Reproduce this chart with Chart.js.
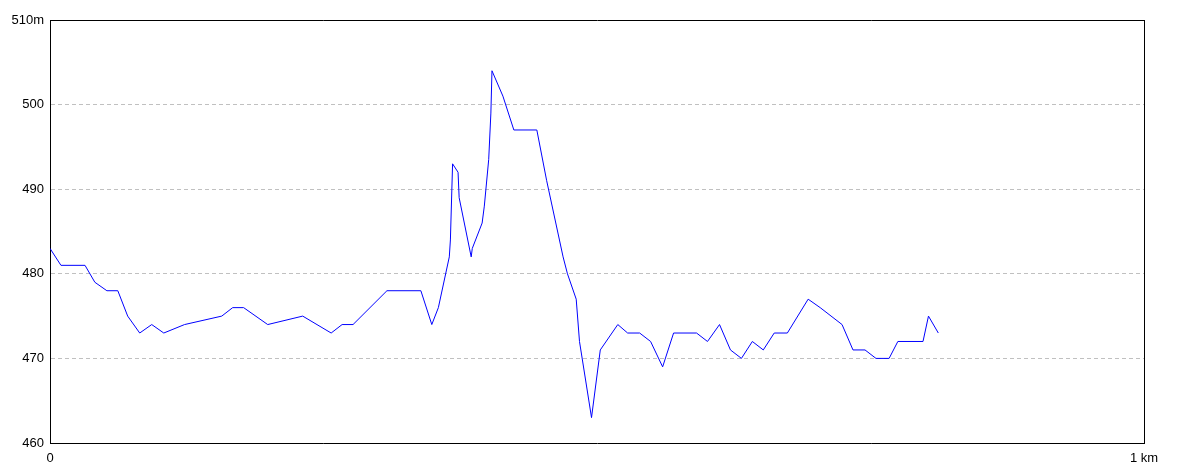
<!DOCTYPE html>
<html>
<head>
<meta charset="utf-8">
<script src="https://cdn.jsdelivr.net/npm/chart.js@4/dist/chart.umd.min.js"></script>
<style>
  html, body { margin: 0; padding: 0; background: #fff; }
  #wrap { width: 1184px; height: 473px; }
</style>
</head>
<body>
<div id="wrap"><canvas id="c" width="1184" height="473"></canvas></div>
<script>
// Distance along the track (metres)
const distances = [0,10,32,41,52,62,71,82,93,104,123,157,167,177,199,231,257,267,277,308,339,
  349,355,365,366,368,373,374,385,386,395,397,401,403,404,414,424,445,454,469,473,
  481,484,495,503,519,528,539,549,560,570,591,601,612,622,632,642,652,662,674,693,
  704,724,734,745,755,767,775,798,803,812];
// Elevation (metres)
const elevations = [483,481,481,479,478,478,475,473,474,473,474,475,476,476,474,475,473,474,474,478,478,
  474,476,482,484,493,492,489,482,483,486,488,493.5,499,504,501,497,497,491,482,480,
  477,472,463,471,474,473,473,472,469,473,473,472,474,471,470,472,471,473,473,477,
  476,474,471,471,470,470,472,472,475,473];
// Axis ticks
const yTicks = [460,470,480,490,500,510];
const xTicks = [0,1000];
const yTopLabel = '510m';
const xEndLabel = '1 km';

const points = distances.map((d, i) => ({ x: d, y: elevations[i] }));

Chart.defaults.font.family = "'Liberation Sans', Arial, sans-serif";
Chart.defaults.font.size = 13;
Chart.defaults.color = '#000';

new Chart(document.getElementById('c'), {
  type: 'line',
  data: {
    datasets: [{
      data: points,
      borderColor: '#0000ff',
      borderWidth: 1,
      pointRadius: 0,
      tension: 0,
      fill: false
    }]
  },
  options: {
    responsive: false,
    devicePixelRatio: 1,
    animation: false,
    layout: { padding: { top: 20, right: 40, left: 0, bottom: 0 } },
    plugins: { legend: { display: false }, tooltip: { enabled: false } },
    scales: {
      x: {
        type: 'linear', position: 'bottom', min: 0, max: 1000,
        afterBuildTicks: s => { s.ticks = xTicks.map(v => ({ value: v })); },
        afterFit: s => { s.height = 30; },
        ticks: {
          padding: 8, maxRotation: 0, autoSkip: false,
          callback: v => (v === 1000 ? xEndLabel : String(v))
        },
        grid: { display: false, drawTicks: false },
        border: { display: true, color: '#000', width: 1 }
      },
      x2: {
        type: 'linear', position: 'top', min: 0, max: 1000,
        afterFit: s => { s.height = 0; },
        ticks: { display: false },
        grid: { display: false, drawTicks: false },
        border: { display: true, color: '#000', width: 1 }
      },
      y: {
        type: 'linear', position: 'left', min: 460, max: 510,
        afterBuildTicks: s => { s.ticks = yTicks.map(v => ({ value: v })); },
        afterFit: s => { s.width = 50; },
        ticks: {
          padding: 6, autoSkip: false,
          callback: v => (v === 510 ? yTopLabel : String(v))
        },
        grid: {
          drawTicks: false,
          color: c => (c.tick && (c.tick.value === 460 || c.tick.value === 510)) ? 'rgba(0,0,0,0)' : '#c0c0c0',
          lineWidth: 1
        },
        border: { display: true, color: '#000', width: 1, dash: [4, 3] }
      },
      y2: {
        type: 'linear', position: 'right', min: 460, max: 510,
        afterFit: s => { s.width = 0; },
        ticks: { display: false },
        grid: { display: false, drawTicks: false },
        border: { display: true, color: '#000', width: 1 }
      }
    }
  }
});
</script>
</body>
</html>
